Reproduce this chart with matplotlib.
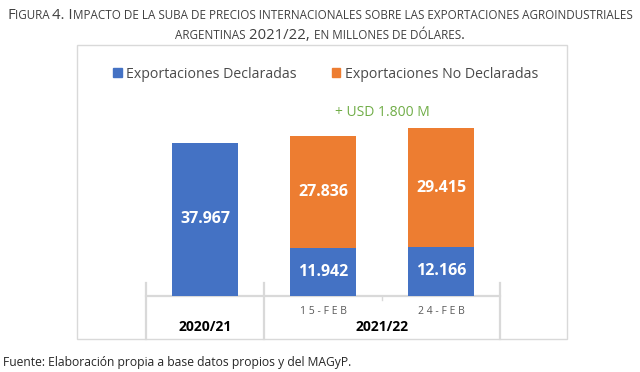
import matplotlib
matplotlib.use("Agg")
import matplotlib.pyplot as plt
from matplotlib.patches import Rectangle
from matplotlib.lines import Line2D
from matplotlib.transforms import blended_transform_factory

W, H, DPI = 640, 372, 100

# ---------------- data ----------------
series_names = ["Exportaciones Declaradas", "Exportaciones No Declaradas"]
bar_labels = ["", "15-FEB", "24-FEB"]
group_labels = ["2020/21", "2021/22"]
group_centers = [0, 1.5]
declaradas = [37967, 11942, 12166]
no_declaradas = [0, 27836, 29415]
annotation = "+ USD 1.800 M"
title_lines = [
    "Figura 4. Impacto de la suba de precios internacionales sobre las exportaciones agroindustriales",
    "argentinas 2021/22, en millones de dólares.",
]
source = "Fuente: Elaboración propia a base datos propios y del MAGyP."

BLUE, ORANGE, GREEN, LINE = "#4472C4", "#ED7D31", "#70AD47", "#D9D9D9"

plt.rcParams['font.family'] = ['Open Sans', 'DejaVu Sans']

fig = plt.figure(figsize=(W / DPI, H / DPI), dpi=DPI)
fig.patch.set_facecolor("white")


def fx(px):
    return px / W


def fy(py):
    return 1 - py / H


AX_TOP, AX_BOT = 100, 296
ax = fig.add_axes([fx(146), fy(AX_BOT), fx(500) - fx(146), fy(AX_TOP) - fy(AX_BOT)])
xs = list(range(len(declaradas)))
ax.bar(xs, declaradas, width=0.56, color=BLUE, zorder=2)
ax.bar(xs, no_declaradas, bottom=declaradas, width=0.56, color=ORANGE, zorder=2)
ax.set_xlim(-0.5, 2.5)
ax.set_ylim(0, (AX_BOT - AX_TOP) / 0.00403)
ax.axis('off')


def fmt(v):
    return f"{v:,}".replace(",", ".")


for i in xs:
    d, n = declaradas[i], no_declaradas[i]
    if d:
        ax.text(i, d / 2, fmt(d), ha='center', va='center', color='white',
                fontsize=11.5, fontweight='bold', zorder=3)
    if n:
        ax.text(i, d + n / 2, fmt(n), ha='center', va='center', color='white',
                fontsize=11.5, fontweight='bold', zorder=3)

hpx = AX_BOT - AX_TOP
trans = blended_transform_factory(ax.transData, ax.transAxes)
ax.axhline(0, color=LINE, lw=1.6, clip_on=False, zorder=1)
for sx in [-0.5, 0.5, 2.5]:
    ax.add_line(Line2D([sx, sx], [13 / hpx, -43 / hpx], transform=trans,
                       color=LINE, lw=1.6, clip_on=False))
ax.add_line(Line2D([1.5, 1.5], [0, -4 / hpx], transform=trans,
                   color=LINE, lw=1.0, clip_on=False))

for i, lab in enumerate(bar_labels):
    if lab:
        ax.text(i, -16 / hpx, " ".join(lab), transform=trans, ha='center',
                va='center', color='#595959', fontsize=7.5)
for c, lab in zip(group_centers, group_labels):
    ax.text(c, -31 / hpx, lab, transform=trans, ha='center', va='center',
            color='black', fontsize=10, fontweight='bold')

ax.text(1.5, (AX_BOT - 113) / hpx, annotation, transform=trans, ha='center',
        va='center', color=GREEN, fontsize=10)

# chart frame
fig.add_artist(Rectangle((fx(77), fy(339)), fx(567) - fx(77), fy(45) - fy(339),
                         transform=fig.transFigure, fill=False, edgecolor=LINE, lw=1))

handles = [Rectangle((0, 0), 1, 1, color=BLUE), Rectangle((0, 0), 1, 1, color=ORANGE)]
fig.legend(handles, series_names, loc='center', bbox_to_anchor=(fx(325.5), fy(74)),
           ncol=2, frameon=False, fontsize=10.2, handlelength=0.6, handleheight=0.6,
           handletextpad=0.3, columnspacing=2.5, labelcolor='#4a4a4a')

# ---- small-caps title ----
fig.canvas.draw()
renderer = fig.canvas.get_renderer()


def adv(s, size):
    t = fig.text(0, 0, "X" + s + "X", fontsize=size)
    w1 = t.get_window_extent(renderer).width
    t.remove()
    t = fig.text(0, 0, "XX", fontsize=size)
    w0 = t.get_window_extent(renderer).width
    t.remove()
    return w1 - w0


def runs(s):
    out = []
    for ch in s:
        small = ch.islower()
        if ch == ' ' and out:
            small = out[-1][1]
        if out and out[-1][1] == small:
            out[-1][0] += ch
        else:
            out.append([ch, small])
    return out


RATIO = 0.78


def line_width(s, big):
    return sum(adv(r.upper(), big * RATIO if sm else big) for r, sm in runs(s))


ref = 10.0
big = ref * 624 / line_width(title_lines[0], ref)
for s, base in zip(title_lines, [19, 39]):
    total = line_width(s, big)
    x = 320 - total / 2
    for r, sm in runs(s):
        size = big * RATIO if sm else big
        fig.text(fx(x), fy(base), r.upper(), fontsize=size, va='baseline',
                 ha='left', color='#404040')
        x += adv(r.upper(), size)

# footer fitted to width
fs = 9 * 352 / adv(source, 9)
fig.text(fx(3), fy(366), source, fontsize=fs, va='baseline', ha='left', color='#262626')

fig.savefig("out.png", dpi=DPI, facecolor="white")
